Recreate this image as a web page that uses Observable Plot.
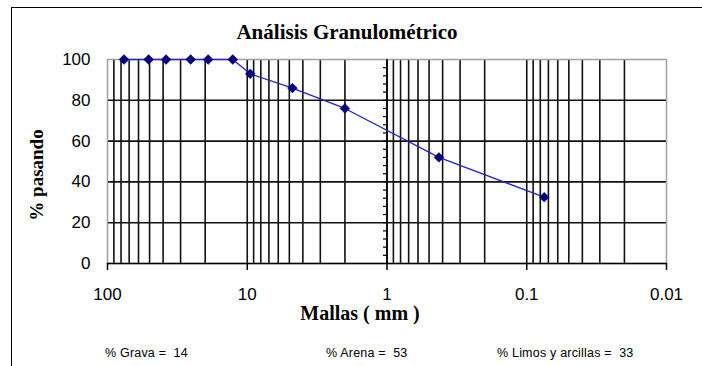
<!DOCTYPE html>
<html><head><meta charset="utf-8">
<script src="https://cdn.jsdelivr.net/npm/d3@7"></script>
<script src="https://cdn.jsdelivr.net/npm/@observablehq/plot@0.6"></script>
<style>
body{margin:0;background:#fff;}
#wrap{position:relative;width:702px;height:366px;overflow:hidden;font-family:"Liberation Sans",Arial,sans-serif;background:#fff;}
#frame{position:absolute;left:11px;top:7px;width:760px;height:420px;border:1px solid #000;}
#chart{position:absolute;left:0;top:0;}
.t{position:absolute;white-space:pre;color:#000;line-height:1;}
#title{left:0;width:694px;top:20px;text-align:center;font:bold 21px "Liberation Serif",serif;}
#xtitle{left:0;width:720px;top:302px;text-align:center;font:bold 20px "Liberation Serif",serif;}
#ytitle{left:-39px;top:165px;width:150px;height:20px;text-align:center;font:bold 19px "Liberation Serif",serif;transform:rotate(-90deg);transform-origin:75px 10px;}
.f{top:347px;font-size:12.5px;letter-spacing:0.2px;}
</style></head>
<body>
<div id="wrap">
  <div id="frame"></div>
  <div id="chart"></div>
  <div class="t" id="title"></div>
  <div class="t" id="xtitle"></div>
  <div class="t" id="ytitle"></div>
  <div class="t f" id="f0" style="left:105px"></div>
  <div class="t f" id="f1" style="left:326px"></div>
  <div class="t f" id="f2" style="left:497px"></div>
</div>
<script>
// ---- data ----
const sieveSizes = [76.2, 50.8, 38.1, 25.4, 19.05, 12.7, 9.525, 4.75, 2.0, 0.425, 0.075];
const percentPassing = [100, 100, 100, 100, 100, 100, 93, 86, 76, 52, 32.5];
const xTickValues = [100, 10, 1, 0.1, 0.01];
const yTickValues = [0, 20, 40, 60, 80, 100];
const fractionNames = ["Grava", "Arena", "Limos y arcillas"];
const fractionValues = [14, 53, 33];
const chartTitle = "Análisis Granulométrico";
const xTitle = "Mallas ( mm )";
const yTitle = "% pasando";

const data = sieveSizes.map((s, i) => ({size: s, pass: percentPassing[i]}));

// log minor gridlines
const gridX = [];
for (const d of [10, 1, 0.1, 0.01]) for (let k = 1; k <= 9; k++) {
  const v = +(d * k).toPrecision(6);
  if (v < 100 && v > 0.01) gridX.push(v);
}
const yMinor = d3.range(4, 100, 4);
const leftTick = {draw(ctx) { ctx.moveTo(-4, 0); ctx.lineTo(0, 0); }};

const plot = Plot.plot({
  width: 702,
  height: 366,
  marginLeft: 107,
  marginRight: 36,
  marginTop: 59,
  marginBottom: 103,
  style: {fontFamily: "'Liberation Sans', Arial, sans-serif", fontSize: "17px", background: "transparent", color: "#000"},
  x: {type: "log", domain: [100, 0.01]},
  y: {domain: [0, 100]},
  marks: [
    Plot.ruleX(gridX, {stroke: "#111", strokeWidth: 1.6}),
    Plot.ruleY([20, 40, 60, 80], {stroke: "#111", strokeWidth: 1.6}),
    Plot.frame({stroke: "#a0a0a0", strokeWidth: 1.5}),
    Plot.ruleY([0], {stroke: "#000", strokeWidth: 1.5}),
    Plot.ruleX([1], {stroke: "#000", strokeWidth: 1.5}),
    Plot.dot(yMinor, {x: () => 1, y: d => d, symbol: leftTick, stroke: "#000", fill: "none", strokeWidth: 1.2}),
    Plot.line(data, {x: "size", y: "pass", stroke: "#2424c8", strokeWidth: 1.3}),
    Plot.dot(data, {x: "size", y: "pass", symbol: "diamond2", r: 4.4, fill: "#000080", stroke: "#000080", strokeWidth: 0.5}),
    Plot.axisX(xTickValues, {tickSize: 7, tickPadding: 17, tickFormat: d => String(d), fontSize: 17, label: null, strokeWidth: 1.5}),
    Plot.axisY(yTickValues, {tickSize: 0, tickPadding: 17, fontSize: 17, label: null})
  ]
});
document.getElementById("chart").appendChild(plot);
document.getElementById("title").textContent = chartTitle;
document.getElementById("xtitle").textContent = xTitle;
document.getElementById("ytitle").textContent = yTitle;
fractionNames.forEach((n, i) => {
  document.getElementById("f" + i).textContent = "% " + n + " =  " + fractionValues[i];
});
</script>
</body></html>
